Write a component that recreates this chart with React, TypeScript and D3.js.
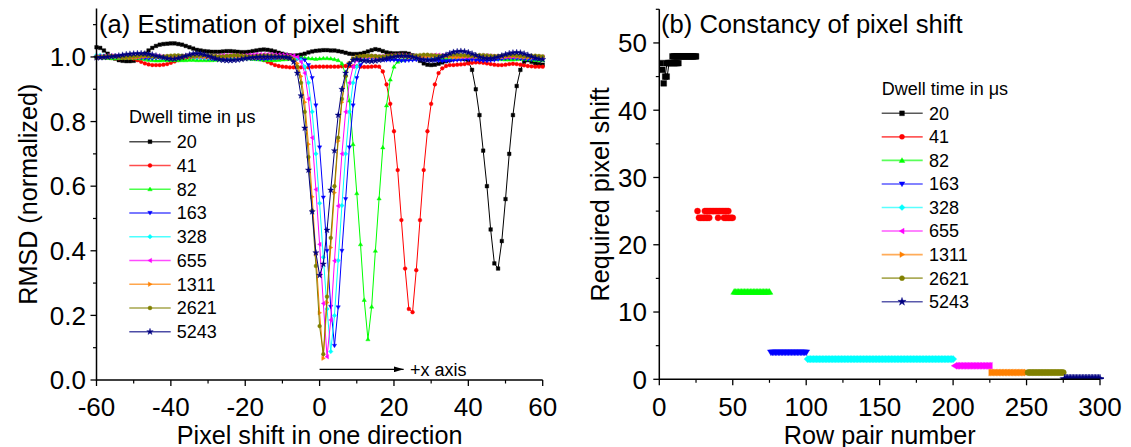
import React from 'react';
import * as d3 from 'd3';

const W = 1131;
const H = 447;
const FONT = '"Liberation Sans", Arial, Helvetica, sans-serif';

// Series identity
const dwellTimes = ['20', '41', '82', '163', '328', '655', '1311', '2621', '5243'];
const seriesColors = ['#000000', '#ff0000', '#00ff00', '#0000ff', '#00ffff', '#ff00ff', '#ff8000', '#808000', '#000080'];
const markerKinds = ['square', 'circle', 'up', 'down', 'diamond', 'left', 'right', 'hex', 'star'];

// Panel (a): RMSD for each integer pixel shift from -60 to 60
const shiftGrid = d3.range(-60, 61);

const rmsd20 = [
  1.03, 1.028, 1.02, 1.01, 1.0, 0.995, 0.99, 0.988, 0.987, 0.987,
  0.988, 0.992, 1.0, 1.01, 1.02, 1.028, 1.034, 1.038, 1.04, 1.041,
  1.042, 1.042, 1.04, 1.038, 1.034, 1.03, 1.026, 1.022, 1.02, 1.018,
  1.017, 1.016, 1.016, 1.016, 1.017, 1.018, 1.018, 1.017, 1.016, 1.015,
  1.015, 1.016, 1.018, 1.02, 1.022, 1.023, 1.022, 1.02, 1.017, 1.013,
  1.01, 1.007, 1.005, 1.004, 1.005, 1.007, 1.01, 1.014, 1.017, 1.019,
  1.02, 1.021, 1.021, 1.02, 1.02, 1.018, 1.016, 1.013, 1.01, 1.009,
  1.009, 1.01, 1.013, 1.017, 1.021, 1.024, 1.022, 1.018, 1.014, 1.012,
  1.011, 1.011, 1.012, 1.012, 1.01, 1.005, 0.997, 0.988, 0.98, 0.976,
  0.975, 0.976, 0.979, 0.983, 0.987, 0.99, 0.993, 0.995, 0.995, 0.993,
  0.985, 0.96, 0.9, 0.82, 0.71, 0.6, 0.466, 0.361, 0.345, 0.43,
  0.56, 0.7, 0.82, 0.91, 0.96, 0.985, 0.99, 0.985, 0.98, 0.978,
  0.976,
];

const rmsd41 = [
  1.0, 1.0, 0.999, 0.998, 0.997, 0.996, 0.996, 0.997, 0.998, 0.998,
  0.995, 0.99, 0.985, 0.98, 0.977, 0.975, 0.975, 0.975, 0.976, 0.978,
  0.982, 0.986, 0.99, 0.993, 0.996, 0.998, 0.999, 1.0, 1.0, 1.0,
  1.0, 1.0, 0.999, 0.999, 0.998, 0.998, 0.998, 0.999, 1.0, 1.0,
  1.0, 1.0, 0.999, 0.997, 0.994, 0.99, 0.985, 0.98, 0.975, 0.972,
  0.97, 0.969, 0.968, 0.968, 0.968, 0.968, 0.968, 0.968, 0.969, 0.97,
  0.97, 0.97, 0.97, 0.97, 0.97, 0.97, 0.971, 0.972, 0.972, 0.971,
  0.971, 0.97, 0.969, 0.969, 0.97, 0.971, 0.97, 0.955, 0.915, 0.855,
  0.77, 0.65, 0.495, 0.345, 0.22, 0.21, 0.34, 0.495, 0.65, 0.77,
  0.855, 0.915, 0.95, 0.965, 0.972, 0.975, 0.975, 0.976, 0.977, 0.978,
  0.98, 0.982, 0.983, 0.983, 0.982, 0.98, 0.978, 0.976, 0.975, 0.975,
  0.976, 0.978, 0.979, 0.978, 0.976, 0.974, 0.972, 0.971, 0.97, 0.97,
  0.97,
];

const rmsd82 = [
  1.0, 0.999, 0.998, 0.997, 0.996, 0.996, 0.997, 0.998, 0.998, 0.998,
  0.997, 0.996, 0.995, 0.993, 0.991, 0.99, 0.989, 0.989, 0.99, 0.99,
  0.99, 0.99, 0.99, 0.99, 0.99, 0.991, 0.991, 0.99, 0.99, 0.99,
  0.99, 0.99, 0.991, 0.992, 0.993, 0.994, 0.995, 0.996, 0.996, 0.996,
  0.996, 0.995, 0.994, 0.993, 0.992, 0.991, 0.99, 0.99, 0.99, 0.991,
  0.992, 0.993, 0.994, 0.995, 0.996, 0.997, 0.997, 0.996, 0.995, 0.994,
  0.995, 0.996, 0.996, 0.995, 0.993, 0.99, 0.98, 0.945, 0.865, 0.73,
  0.578, 0.42, 0.248, 0.126, 0.227, 0.4, 0.562, 0.72, 0.85, 0.93,
  0.97, 0.985, 0.99, 0.993, 0.995, 0.996, 0.997, 0.998, 0.998, 0.998,
  0.998, 0.998, 0.997, 0.996, 0.995, 0.995, 0.996, 0.997, 0.998, 0.999,
  1.0, 1.0, 1.0, 0.999, 0.998, 0.997, 0.996, 0.995, 0.994, 0.993,
  0.992, 0.992, 0.992, 0.993, 0.994, 0.994, 0.993, 0.992, 0.991, 0.99,
  0.99,
];

const rmsd163 = [
  1.0, 1.0, 1.0, 1.001, 1.002, 1.003, 1.003, 1.002, 1.001, 1.0,
  0.999, 0.998, 0.997, 0.996, 0.995, 0.995, 0.996, 0.997, 0.998, 0.999,
  1.0, 1.001, 1.002, 1.002, 1.001, 1.0, 0.999, 0.998, 0.997, 0.996,
  0.995, 0.994, 0.994, 0.994, 0.995, 0.996, 0.997, 0.998, 0.998, 0.998,
  0.997, 0.996, 0.995, 0.994, 0.993, 0.993, 0.994, 0.995, 0.996, 0.997,
  0.998, 0.998, 0.997, 0.996, 0.995, 0.993, 0.99, 0.975, 0.935, 0.85,
  0.72, 0.565, 0.4, 0.227, 0.106, 0.225, 0.4, 0.56, 0.72, 0.85,
  0.935, 0.975, 0.99, 0.995, 0.996, 0.995, 0.993, 0.991, 0.99, 0.99,
  0.99, 0.989, 0.988, 0.988, 0.989, 0.99, 0.991, 0.992, 0.992, 0.991,
  0.99, 0.989, 0.988, 0.987, 0.987, 0.988, 0.989, 0.99, 0.991, 0.992,
  0.992, 0.991, 0.99, 0.989, 0.988, 0.988, 0.989, 0.99, 0.992, 0.994,
  0.995, 0.996, 0.996, 0.995, 0.994, 0.993, 0.992, 0.992, 0.993, 0.994,
  0.995,
];

const rmsd328 = [
  1.005, 1.005, 1.004, 1.003, 1.002, 1.001, 1.0, 1.0, 1.0, 1.001,
  1.002, 1.003, 1.003, 1.003, 1.002, 1.001, 1.0, 0.999, 0.999, 1.0,
  1.001, 1.002, 1.003, 1.003, 1.002, 1.001, 1.0, 0.999, 0.998, 0.998,
  0.998, 0.999, 1.0, 1.001, 1.002, 1.002, 1.001, 1.0, 0.999, 0.998,
  0.998, 0.998, 0.999, 1.0, 1.001, 1.002, 1.002, 1.001, 1.0, 1.0,
  1.0, 1.0, 0.999, 0.998, 0.997, 0.99, 0.97, 0.92, 0.83, 0.7,
  0.547, 0.38, 0.22, 0.088, 0.2, 0.37, 0.54, 0.7, 0.83, 0.92,
  0.97, 0.99, 0.997, 1.0, 1.001, 1.001, 1.0, 0.999, 0.999, 1.0,
  1.001, 1.002, 1.002, 1.001, 1.0, 0.999, 0.998, 0.998, 0.999, 1.0,
  1.001, 1.002, 1.003, 1.003, 1.002, 1.001, 1.0, 1.0, 1.0, 1.001,
  1.002, 1.003, 1.004, 1.004, 1.003, 1.002, 1.001, 1.0, 1.0, 1.001,
  1.002, 1.003, 1.003, 1.002, 1.001, 1.0, 0.999, 0.999, 1.0, 1.0,
  1.0,
];

const rmsd655 = [
  1.002, 1.002, 1.003, 1.004, 1.004, 1.003, 1.002, 1.001, 1.0, 1.0,
  1.0, 1.001, 1.002, 1.003, 1.004, 1.004, 1.003, 1.002, 1.001, 1.0,
  1.0, 1.001, 1.002, 1.003, 1.004, 1.004, 1.003, 1.002, 1.001, 1.001,
  1.001, 1.002, 1.003, 1.004, 1.005, 1.005, 1.005, 1.004, 1.004, 1.004,
  1.005, 1.006, 1.007, 1.008, 1.008, 1.008, 1.008, 1.008, 1.007, 1.007,
  1.007, 1.006, 1.005, 1.004, 1.0, 0.985, 0.95, 0.87, 0.75, 0.59,
  0.42, 0.237, 0.072, 0.186, 0.369, 0.539, 0.7, 0.83, 0.92, 0.97,
  0.99, 0.998, 1.0, 1.001, 1.002, 1.002, 1.002, 1.002, 1.003, 1.004,
  1.005, 1.006, 1.006, 1.005, 1.004, 1.003, 1.002, 1.002, 1.003, 1.004,
  1.005, 1.006, 1.006, 1.005, 1.004, 1.003, 1.002, 1.001, 1.0, 1.0,
  1.0, 1.001, 1.002, 1.003, 1.004, 1.004, 1.003, 1.002, 1.001, 1.0,
  1.0, 1.0, 1.001, 1.002, 1.002, 1.002, 1.001, 1.0, 1.0, 1.0,
  1.0,
];

const rmsd1311 = [
  0.998, 0.998, 0.999, 1.0, 1.001, 1.001, 1.0, 0.999, 0.998, 0.998,
  0.998, 0.999, 1.0, 1.001, 1.002, 1.002, 1.001, 1.0, 0.999, 0.998,
  0.997, 0.997, 0.998, 0.999, 1.0, 1.001, 1.002, 1.002, 1.001, 1.0,
  0.999, 0.998, 0.998, 0.999, 1.0, 1.001, 1.002, 1.002, 1.001, 1.0,
  0.999, 0.998, 0.997, 0.997, 0.998, 0.999, 1.0, 1.0, 0.999, 0.998,
  0.997, 0.997, 0.996, 0.995, 0.98, 0.94, 0.86, 0.73, 0.567, 0.39,
  0.208, 0.067, 0.24, 0.41, 0.58, 0.74, 0.86, 0.94, 0.98, 0.995,
  1.0, 1.001, 1.002, 1.002, 1.001, 1.0, 0.999, 0.999, 1.0, 1.001,
  1.002, 1.002, 1.001, 1.0, 0.999, 0.998, 0.998, 0.999, 1.0, 1.001,
  1.002, 1.003, 1.003, 1.002, 1.001, 1.0, 0.999, 0.999, 1.0, 1.001,
  1.002, 1.002, 1.001, 1.0, 0.999, 0.998, 0.998, 0.999, 1.0, 1.0,
  1.001, 1.002, 1.002, 1.001, 1.0, 0.999, 0.998, 0.998, 0.999, 1.0,
  1.0,
];

const rmsd2621 = [
  1.0, 1.001, 1.002, 1.003, 1.003, 1.002, 1.001, 1.0, 1.0, 1.001,
  1.002, 1.003, 1.004, 1.004, 1.003, 1.002, 1.001, 1.001, 1.002, 1.003,
  1.004, 1.005, 1.005, 1.004, 1.003, 1.002, 1.002, 1.003, 1.004, 1.005,
  1.005, 1.004, 1.003, 1.002, 1.002, 1.003, 1.004, 1.005, 1.005, 1.004,
  1.003, 1.002, 1.002, 1.003, 1.004, 1.005, 1.005, 1.004, 1.003, 1.002,
  1.002, 1.001, 1.0, 0.99, 0.97, 0.92, 0.83, 0.69, 0.524, 0.353,
  0.167, 0.08, 0.258, 0.44, 0.6, 0.75, 0.87, 0.94, 0.98, 0.995,
  1.0, 1.002, 1.003, 1.004, 1.004, 1.003, 1.002, 1.002, 1.003, 1.004,
  1.005, 1.006, 1.006, 1.005, 1.004, 1.004, 1.005, 1.006, 1.007, 1.007,
  1.006, 1.005, 1.004, 1.004, 1.005, 1.006, 1.007, 1.007, 1.006, 1.005,
  1.004, 1.004, 1.005, 1.006, 1.006, 1.005, 1.004, 1.003, 1.003, 1.004,
  1.005, 1.006, 1.006, 1.005, 1.004, 1.003, 1.003, 1.004, 1.004, 1.003,
  1.002,
];

const rmsd5243 = [
  0.998, 0.998, 0.999, 1.0, 1.001, 1.002, 1.004, 1.006, 1.008, 1.009,
  1.01, 1.011, 1.011, 1.01, 1.009, 1.007, 1.004, 1.001, 0.998, 0.995,
  0.994, 0.994, 0.996, 0.999, 1.003, 1.007, 1.01, 1.011, 1.01, 1.007,
  1.003, 0.999, 0.995, 0.992, 0.99, 0.989, 0.989, 0.99, 0.991, 0.993,
  0.995, 0.997, 0.998, 0.999, 1.0, 1.0, 1.0, 1.0, 1.0, 1.0,
  1.0, 0.999, 0.996, 0.985, 0.95, 0.88, 0.78, 0.65, 0.521, 0.394,
  0.324, 0.359, 0.464, 0.588, 0.71, 0.82, 0.9, 0.95, 0.978, 0.99,
  0.993, 0.99, 0.988, 0.987, 0.987, 0.988, 0.99, 0.992, 0.995, 0.998,
  1.0, 1.002, 1.003, 1.003, 1.002, 1.0, 0.997, 0.994, 0.991, 0.99,
  0.99, 0.992, 0.996, 1.001, 1.006, 1.011, 1.015, 1.017, 1.018, 1.017,
  1.014, 1.01, 1.005, 1.0, 0.997, 0.995, 0.995, 0.997, 1.0, 1.004,
  1.008, 1.011, 1.013, 1.014, 1.013, 1.01, 1.006, 1.001, 0.997, 0.994,
  0.992,
];

const rmsdSeries = [rmsd20, rmsd41, rmsd82, rmsd163, rmsd328, rmsd655, rmsd1311, rmsd2621, rmsd5243];

// Panel (b): runs of row pairs sharing a required shift, [firstRow, lastRow, shift]
const runs20 = [[1, 1, 47], [2, 2, 46], [3, 3, 44], [4, 5, 45], [5, 13, 47], [9, 25, 48]];
const runs41 = [[26, 26, 25], [31, 47, 25], [27, 34, 24], [40, 40, 24], [44, 50, 24]];
const runs82 = [[51, 75, 13]];
const runs163 = [[76, 100, 4]];
const runs328 = [[101, 200, 3]];
const runs655 = [[201, 225, 2]];
const runs1311 = [[226, 250, 1]];
const runs2621 = [[251, 275, 1]];
const runs5243 = [[276, 300, 0]];
const shiftRuns = [runs20, runs41, runs82, runs163, runs328, runs655, runs1311, runs2621, runs5243];
// connecting segments of the 20 µs series where consecutive rows jump, [row, shift] -> [row, shift]
const jumps20 = [[[4, 45], [5.2, 47]], [[5.4, 45], [6.6, 47]]];

// Axis ticks
const aMajorX = [-60, -40, -20, 0, 20, 40, 60];
const aMinorX = [-50, -30, -10, 10, 30, 50];
const aMajorY = [0, 0.2, 0.4, 0.6, 0.8, 1.0];
const aMinorY = [0.1, 0.3, 0.5, 0.7, 0.9, 1.1];
const bMajorX = [0, 50, 100, 150, 200, 250, 300];
const bMinorX = [25, 75, 125, 175, 225, 275];
const bMajorY = [0, 10, 20, 30, 40, 50];
const bMinorY = [5, 15, 25, 35, 45, 55];

function markerPath(kind: string, s: number): string {
  const r = s / 2;
  switch (kind) {
    case 'square':
      return `M${-r},${-r}h${s}v${s}h${-s}Z`;
    case 'circle':
    case 'hex':
      return d3.symbol(d3.symbolCircle, Math.PI * r * r * 1.1)() as string;
    case 'diamond': {
      const q = r * 1.25;
      return `M0,${-q}L${q},0L0,${q}L${-q},0Z`;
    }
    case 'star':
      return d3.symbol(d3.symbolStar, s * s * 0.9)() as string;
    default: {
      // triangle pointing up, rotated later
      const h = s * 0.95;
      const b = s * 0.6;
      return `M0,${-h * 0.6}L${b},${h * 0.45}L${-b},${h * 0.45}Z`;
    }
  }
}

function markerRotation(kind: string): number {
  if (kind === 'down') return 180;
  if (kind === 'left') return -90;
  if (kind === 'right') return 90;
  return 0;
}

function Marker({ x, y, kind, color, size }: { x: number; y: number; kind: string; color: string; size: number }) {
  return (
    <path
      d={markerPath(kind, size)}
      transform={`translate(${x},${y}) rotate(${markerRotation(kind)})`}
      fill={color}
      stroke={color}
      strokeWidth={0.4}
    />
  );
}

export default function App() {
  // panel (a) frame
  const xA = d3.scaleLinear().domain([-60, 60]).range([96.5, 542.7]);
  const yA = d3.scaleLinear().domain([0, 1.15]).range([380, 8.5]);
  // panel (b) frame
  const xB = d3.scaleLinear().domain([0, 300]).range([659.3, 1100]);
  const yB = d3.scaleLinear().domain([0, 55]).range([379.3, 9.3]);

  const lineA = d3
    .line<number>()
    .x((_, i) => xA(shiftGrid[i]))
    .y((d) => yA(d));

  const tickFont = 26;
  const titleFont = 25.2;
  const legendFont = 18;
  const tickBase = 416;
  const titleBase = 443.5;

  const axisA = (
    <g>
      <line x1={xA(-60)} x2={xA(60)} y1={yA(0)} y2={yA(0)} stroke="#000" strokeWidth={1.5} />
      <line x1={xA(-60)} x2={xA(-60)} y1={yA(0) + 0.75} y2={yA(1.15)} stroke="#000" strokeWidth={1.5} />
      {aMajorX.map((t) => (
        <g key={'amx' + t}>
          <line x1={xA(t)} x2={xA(t)} y1={yA(0)} y2={yA(0) + 6} stroke="#000" strokeWidth={1.3} />
          <text x={xA(t)} y={tickBase} textAnchor="middle" fontSize={tickFont} fontFamily={FONT}>
            {t}
          </text>
        </g>
      ))}
      {aMinorX.map((t) => (
        <line key={'anx' + t} x1={xA(t)} x2={xA(t)} y1={yA(0)} y2={yA(0) + 3.5} stroke="#000" strokeWidth={1.2} />
      ))}
      {aMajorY.map((t) => (
        <g key={'amy' + t}>
          <line x1={xA(-60) - 6} x2={xA(-60)} y1={yA(t)} y2={yA(t)} stroke="#000" strokeWidth={1.3} />
          <text x={86} y={yA(t) + 9.3} textAnchor="end" fontSize={tickFont} fontFamily={FONT}>
            {t.toFixed(1)}
          </text>
        </g>
      ))}
      {aMinorY.map((t) => (
        <line key={'any' + t} x1={xA(-60) - 3.5} x2={xA(-60)} y1={yA(t)} y2={yA(t)} stroke="#000" strokeWidth={1.2} />
      ))}
    </g>
  );

  const axisB = (
    <g>
      <line x1={xB(0)} x2={xB(300)} y1={yB(0)} y2={yB(0)} stroke="#000" strokeWidth={1.5} />
      <line x1={xB(0)} x2={xB(0)} y1={yB(0) + 0.75} y2={yB(55)} stroke="#000" strokeWidth={1.5} />
      {bMajorX.map((t) => (
        <g key={'bmx' + t}>
          <line x1={xB(t)} x2={xB(t)} y1={yB(0)} y2={yB(0) + 6} stroke="#000" strokeWidth={1.3} />
          <text x={xB(t)} y={tickBase} textAnchor="middle" fontSize={tickFont} fontFamily={FONT}>
            {t}
          </text>
        </g>
      ))}
      {bMinorX.map((t) => (
        <line key={'bnx' + t} x1={xB(t)} x2={xB(t)} y1={yB(0)} y2={yB(0) + 3.5} stroke="#000" strokeWidth={1.2} />
      ))}
      {bMajorY.map((t) => (
        <g key={'bmy' + t}>
          <line x1={xB(0) - 6} x2={xB(0)} y1={yB(t)} y2={yB(t)} stroke="#000" strokeWidth={1.3} />
          <text x={647} y={yB(t) + 9.3} textAnchor="end" fontSize={tickFont} fontFamily={FONT}>
            {t}
          </text>
        </g>
      ))}
      {bMinorY.map((t) => (
        <line key={'bny' + t} x1={xB(0) - 3.5} x2={xB(0)} y1={yB(t)} y2={yB(t)} stroke="#000" strokeWidth={1.2} />
      ))}
    </g>
  );

  // expand runs into individual row-pair points
  const bPoints = shiftRuns.map((runs) =>
    runs.flatMap(([a, b, v]) => d3.range(a, b + 1).map((row) => [row, v] as [number, number]))
  );

  return (
    <svg
      width={W}
      height={H}
      viewBox={`0 0 ${W} ${H}`}
      style={{ position: 'absolute', left: 0, top: 0, display: 'block', background: '#fff' }}
    >
      <defs>
        <clipPath id="clipB">
          <rect x={xB(0)} y={yB(55)} width={xB(300) - xB(0) + 4} height={yB(0) - yB(55)} />
        </clipPath>
        <marker id="arrowHead" viewBox="0 0 10 6" refX="10" refY="3" markerWidth="10" markerHeight="6" markerUnits="userSpaceOnUse" orient="auto">
          <path d="M0,0L10,3L0,6Z" fill="#000" />
        </marker>
      </defs>
      <rect x={0} y={0} width={W} height={H} fill="#fff" />

      {/* panel (a): RMSD curves */}
      {rmsdSeries.map((vals, si) => (
        <g key={'sa' + si}>
          <path d={lineA(vals) as string} fill="none" stroke={seriesColors[si]} strokeWidth={1} />
          {vals.map((v, i) => (
            <Marker key={i} x={xA(shiftGrid[i])} y={yA(v)} kind={markerKinds[si]} color={seriesColors[si]} size={3.6} />
          ))}
        </g>
      ))}
      {axisA}

      {/* panel (b): required shift per row pair */}
      <g clipPath="url(#clipB)">
        {jumps20.map(([p, q], i) => (
          <line key={'j' + i} x1={xB(p[0])} y1={yB(p[1])} x2={xB(q[0])} y2={yB(q[1])} stroke="#000" strokeWidth={1} />
        ))}
        {bPoints.map((pts, si) => (
          <g key={'sb' + si}>
            {pts.map(([row, v], i) => (
              <Marker key={i} x={xB(row)} y={yB(v)} kind={markerKinds[si]} color={seriesColors[si]} size={5.8} />
            ))}
          </g>
        ))}
      </g>
      {axisB}

      {/* panel titles */}
      <text x={99} y={32.7} fontSize={25.6} fontFamily={FONT}>
        (a) Estimation of pixel shift
      </text>
      <text x={661} y={32.7} fontSize={25.6} fontFamily={FONT}>
        (b) Constancy of pixel shift
      </text>

      {/* axis titles */}
      <text x={xA(0)} y={titleBase} textAnchor="middle" fontSize={titleFont} fontFamily={FONT}>
        Pixel shift in one direction
      </text>
      <text x={xB(150)} y={titleBase} textAnchor="middle" fontSize={titleFont} fontFamily={FONT}>
        Row pair number
      </text>
      <text
        transform={`translate(37,${(yA(0) + yA(1.15)) / 2}) rotate(-90)`}
        textAnchor="middle"
        fontSize={titleFont}
        fontFamily={FONT}
      >
        RMSD (normalized)
      </text>
      <text
        transform={`translate(609,${(yB(0) + yB(55)) / 2}) rotate(-90)`}
        textAnchor="middle"
        fontSize={titleFont}
        fontFamily={FONT}
      >
        Required pixel shift
      </text>

      {/* direction arrow */}
      <line x1={xA(0)} x2={xA(22.6)} y1={369.3} y2={369.3} stroke="#000" strokeWidth={1.2} markerEnd="url(#arrowHead)" />
      <text x={410} y={375.5} fontSize={18} fontFamily={FONT}>
        +x axis
      </text>

      {/* legend (a) */}
      <text x={129} y={123} fontSize={legendFont} fontFamily={FONT}>
        Dwell time in μs
      </text>
      {dwellTimes.map((d, i) => {
        const y = 141.7 + i * 23.75;
        return (
          <g key={'la' + i}>
            <line x1={129.3} x2={170.7} y1={y} y2={y} stroke={seriesColors[i]} strokeWidth={1.6} strokeOpacity={0.7} />
            <Marker x={150} y={y} kind={markerKinds[i]} color={seriesColors[i]} size={3.8} />
            <text x={176.7} y={y + 6.4} fontSize={legendFont} fontFamily={FONT}>
              {d}
            </text>
          </g>
        );
      })}

      {/* legend (b) */}
      <text x={881.7} y={95} fontSize={legendFont} fontFamily={FONT}>
        Dwell time in μs
      </text>
      {dwellTimes.map((d, i) => {
        const y = 113.3 + i * 23.55;
        return (
          <g key={'lb' + i}>
            <line x1={881.7} x2={922.7} y1={y} y2={y} stroke={seriesColors[i]} strokeWidth={1.6} strokeOpacity={0.65} />
            <Marker x={902} y={y} kind={markerKinds[i]} color={seriesColors[i]} size={4.8} />
            <text x={929} y={y + 6.4} fontSize={legendFont} fontFamily={FONT}>
              {d}
            </text>
          </g>
        );
      })}
    </svg>
  );
}
